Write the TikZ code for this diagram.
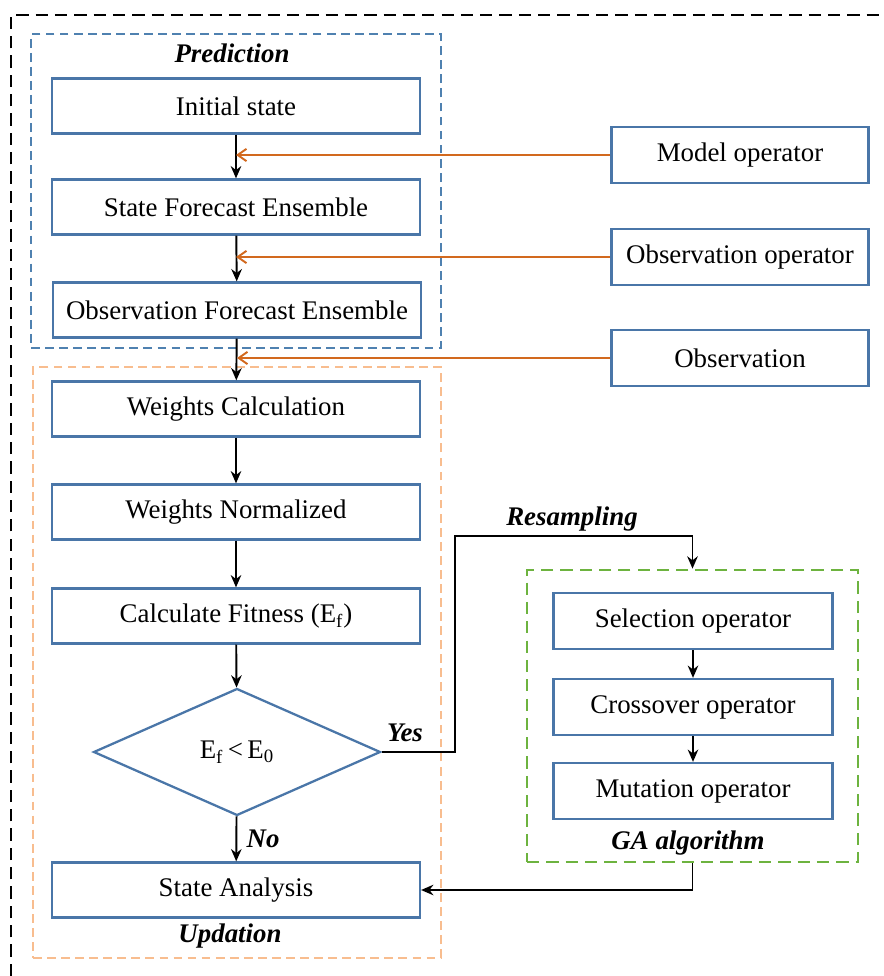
\documentclass[tikz,border=0pt]{standalone}
\usepackage{fontspec}
\setmainfont{Liberation Serif}
\usetikzlibrary{arrows.meta,shapes.geometric}

\begin{document}
\begin{tikzpicture}[x=0.02cm, y=-0.02cm,
    font=\fontsize{15.3}{18}\selectfont,
    box/.style={draw=boxBlue, line width=1.3pt, fill=white, minimum width=7.36cm, minimum height=1.1cm, inner sep=0pt},
    sidebox/.style={box, minimum width=5.14cm, minimum height=1.13cm},
    gabox/.style={box, minimum width=5.58cm, minimum height=1.12cm},
    frame/.style={dashed, line width=1.2pt, dash pattern=on 5pt off 3pt, inner sep=0pt},
    flow/.style={black, line width=1.1pt, -{Stealth[length=7pt,width=6pt]}},
    feed/.style={draw=feedOrange, line width=1.1pt, -{Straight Barb[length=5pt,width=7pt]}},
    tag/.style={font=\fontsize{15.3}{18}\selectfont\bfseries\itshape}]

    \definecolor{boxBlue}{HTML}{4A76A8}
    \definecolor{predBlue}{HTML}{4F81B0}
    \definecolor{updOrange}{HTML}{F8BD8F}
    \definecolor{feedOrange}{HTML}{D2691E}
    \definecolor{gaGreen}{HTML}{6DB33F}

    \useasboundingbox (0,0) rectangle (883,976);

    % Outer frame
    \draw[black, line width=1.2pt, dash pattern=on 7pt off 4pt] (11,976) -- (11,15) -- (883,15);

    % Group frames
    \node[frame, draw=predBlue, minimum width=8.2cm, minimum height=6.28cm] (pred) at (236,191) {};
    \node[frame, draw=updOrange, minimum width=8.16cm, minimum height=11.82cm] (upd) at (237,662.5) {};
    \node[frame, draw=gaGreen, line width=1.6pt, dash pattern=on 7pt off 4pt, minimum width=6.62cm, minimum height=5.84cm] (ga) at (692.5,716) {};

    \node[tag] at (232,53) {Prediction};
    \node[tag] at (230,936) {Updation};
    \node[tag] at (688,843) {GA algorithm};

    % Main chain
    \node[box] (init) at (236,106) {Initial state};
    \node[box] (sfe) at (236,207) {State Forecast Ensemble};
    \node[box] (ofe) at (237,310) {Observation Forecast Ensemble};
    \node[box] (wcalc) at (236,409) {Weights Calculation};
    \node[box] (wnorm) at (236,512) {Weights Normalized};
    \node[box] (fit) at (236,616) {Calculate Fitness (E\textsubscript{f})};
    \node[draw=boxBlue, line width=1.3pt, diamond, minimum width=5.74cm, minimum height=2.54cm, inner sep=0pt] (dec) at (237,752) {E\textsubscript{f}\,<\,E\textsubscript{0}};
    \node[box] (sa) at (236,890) {State Analysis};

    \draw[flow] (init) -- (sfe);
    \draw[flow] (sfe) -- (ofe);
    \draw[flow] (ofe) -- (wcalc);
    \draw[flow] (wcalc) -- (wnorm);
    \draw[flow] (wnorm) -- (fit);
    \draw[flow] (fit) -- (dec);
    \draw[flow] (dec) -- node[tag, right, xshift=2pt] {No} (sa);

    % Operators on the right
    \node[sidebox] (model) at (740,155) {Model operator};
    \node[sidebox] (obsop) at (740,257) {Observation operator};
    \node[sidebox] (obs) at (740,358) {Observation};

    \coordinate (modelIn) at (model.west -| init.south);
    \coordinate (obsopIn) at (obsop.west -| sfe.south);
    \coordinate (obsIn) at (obs.west -| ofe.south);
    \draw[feed] (model.west) -- (modelIn);
    \draw[feed] (obsop.west) -- (obsopIn);
    \draw[feed] (obs.west) -- (obsIn);

    % GA algorithm
    \node[gabox] (sel) at (693,621) {Selection operator};
    \node[gabox] (cross) at (693,707) {Crossover operator};
    \node[gabox] (mut) at (693,791) {Mutation operator};
    \draw[flow] (sel) -- (cross);
    \draw[flow] (cross) -- (mut);

    % Resampling loop
    \coordinate (yesTurn) at (455,536);
    \draw[flow] (dec.east) -| (yesTurn) -| (ga.north);
    \node[tag] at (405,733) {Yes};
    \node[tag] at (572,519) {Resampling};
    \draw[flow] (ga.south) |- (sa.east);

\end{tikzpicture}
\end{document}
